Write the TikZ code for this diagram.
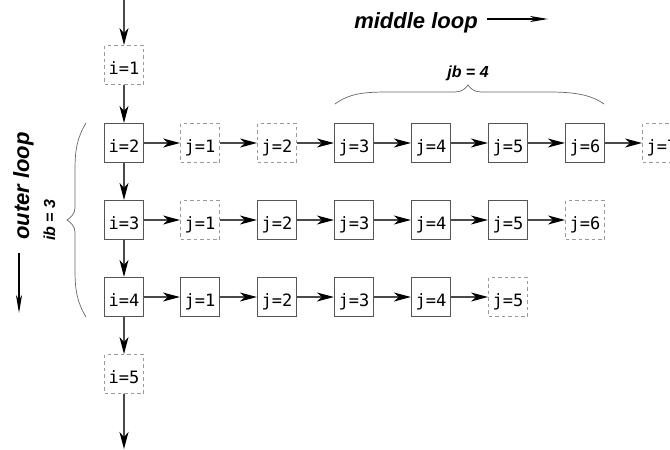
\documentclass[tikz,border=0pt]{standalone}
\usepackage{fontspec}
\setmainfont{Liberation Sans}
\newfontfamily\boxfont{DejaVu Sans Mono}
\usetikzlibrary{arrows.meta}
\definecolor{solidc}{HTML}{555555}
\definecolor{dashc}{HTML}{9A9A9A}
\definecolor{linec}{HTML}{4A4A4A}
\tikzset{
  cell/.style={rectangle, minimum width=39pt, minimum height=39pt, inner sep=0pt,
    font=\boxfont\fontsize{17}{17}\selectfont, text height=18pt, text depth=0pt},
  solidbox/.style={cell, draw=solidc, line width=1.2pt},
  dashbox/.style={cell, draw=dashc, line width=0.9pt, dash pattern=on 3.5pt off 3pt},
  conn/.style={draw=linec, line width=1.3pt, -{Stealth[length=17pt,width=9pt,inset=5pt,black]}},
  lbl/.style={font=\bfseries\itshape\fontsize{22}{22}\selectfont},
  sublbl/.style={font=\bfseries\itshape\fontsize{16}{16}\selectfont},
  brc/.style={draw=gray!80!black, line width=0.7pt},
  dirarrow/.style={line width=1.2pt, -{Stealth[length=18pt,width=6pt,inset=5pt]}}
}
\begin{document}
\begin{tikzpicture}[x=1pt,y=-1pt]
\useasboundingbox (0,0) rectangle (670,450);
\clip (0,0) rectangle (670,450);
% i column
\coordinate (top) at (124,0);
\coordinate (bot) at (124,449);
\node[dashbox]  (i1) at (124,65)  {i=1};
\node[solidbox] (i2) at (124,143) {i=2};
\node[solidbox] (i3) at (124,220) {i=3};
\node[solidbox] (i4) at (124,297) {i=4};
\node[dashbox]  (i5) at (124,374) {i=5};
% row 1
\node[dashbox]  (a1) at (200,143) {j=1};
\node[dashbox]  (a2) at (277,143) {j=2};
\node[solidbox] (a3) at (354,143) {j=3};
\node[solidbox] (a4) at (431,143) {j=4};
\node[solidbox] (a5) at (508,143) {j=5};
\node[solidbox] (a6) at (585,143) {j=6};
\node[dashbox]  (a7) at (662,143) {j=7};
% row 2
\node[dashbox]  (b1) at (200,220) {j=1};
\node[solidbox] (b2) at (277,220) {j=2};
\node[solidbox] (b3) at (354,220) {j=3};
\node[solidbox] (b4) at (431,220) {j=4};
\node[solidbox] (b5) at (508,220) {j=5};
\node[dashbox]  (b6) at (585,220) {j=6};
% row 3
\node[solidbox] (c1) at (200,297) {j=1};
\node[solidbox] (c2) at (277,297) {j=2};
\node[solidbox] (c3) at (354,297) {j=3};
\node[solidbox] (c4) at (431,297) {j=4};
\node[dashbox]  (c5) at (508,297) {j=5};
% vertical connectors
\draw[conn] (top) -- (i1);
\draw[conn] (i1) -- (i2);
\draw[conn] (i2) -- (i3);
\draw[conn] (i3) -- (i4);
\draw[conn] (i4) -- (i5);
\draw[conn] (i5) -- (bot);
% horizontal connectors
\draw[conn] (i2) -- (a1);
\draw[conn] (a1) -- (a2);
\draw[conn] (a2) -- (a3);
\draw[conn] (a3) -- (a4);
\draw[conn] (a4) -- (a5);
\draw[conn] (a5) -- (a6);
\draw[conn] (a6) -- (a7);
\draw[conn] (i3) -- (b1);
\draw[conn] (b1) -- (b2);
\draw[conn] (b2) -- (b3);
\draw[conn] (b3) -- (b4);
\draw[conn] (b4) -- (b5);
\draw[conn] (b5) -- (b6);
\draw[conn] (i4) -- (c1);
\draw[conn] (c1) -- (c2);
\draw[conn] (c2) -- (c3);
\draw[conn] (c3) -- (c4);
\draw[conn] (c4) -- (c5);
% labels
\node[lbl, anchor=base] (ml) at (416,28) {middle loop};
\coordinate (mla) at (487,19);
\coordinate (mlb) at (548,19);
\draw[dirarrow] (mla) -- (mlb);
\node[sublbl, anchor=base] (jb) at (468,77) {jb = 4};
\node[lbl, rotate=90, anchor=base] (ol) at (29,186) {outer loop};
\coordinate (ola) at (19,253);
\coordinate (olb) at (19,313);
\draw[dirarrow] (ola) -- (olb);
\node[sublbl, rotate=90, anchor=base] (ib) at (55,220) {ib = 3};
% braces
\draw[brc] (335,104) .. controls (350,93) and (365,92) .. (390,92) -- (455,92)
  .. controls (462,92) and (466,88) .. (468,85)
  .. controls (470,88) and (474,92) .. (481,92) -- (548,92)
  .. controls (572,92) and (590,94) .. (604,104);
\draw[brc] (86,123) .. controls (77,138) and (75,150) .. (75,170) -- (75,208)
  .. controls (75,214) and (70,218) .. (67,220)
  .. controls (70,222) and (75,226) .. (75,232) -- (75,270)
  .. controls (75,290) and (77,302) .. (86,317);
\end{tikzpicture}
\end{document}
